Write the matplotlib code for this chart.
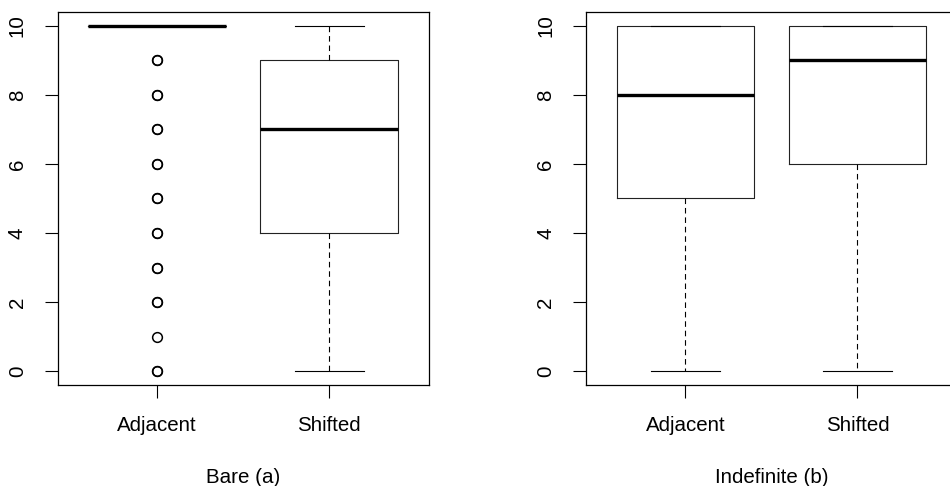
import matplotlib
matplotlib.use('Agg')
from matplotlib import pyplot as plt

plt.rcParams['font.family'] = ['Liberation Sans', 'DejaVu Sans']

# Groups on the x axis
groups = ['Adjacent', 'Shifted']
positions = [1, 2]

# Bare (a): whisker low, Q1, median, Q3, whisker high
bare_low = [10, 0]
bare_q1 = [10, 4]
bare_med = [10, 7]
bare_q3 = [10, 9]
bare_high = [10, 10]
# outliers of Adjacent (repeated values are drawn on top of each other)
bare_adj_outliers = [0, 0, 1, 2, 2, 3, 3, 4, 4, 5, 5, 6, 6, 7, 7, 8, 8, 9, 9]
bare_shf_outliers = []

# Indefinite (b)
indef_low = [0, 0]
indef_q1 = [5, 6]
indef_med = [8, 9]
indef_q3 = [10, 10]
indef_high = [10, 10]

yticks = [0, 2, 4, 6, 8, 10]


def make_stats(low, q1, med, q3, high, fliers):
    stats = []
    for i in range(len(low)):
        stats.append({'whislo': low[i], 'q1': q1[i], 'med': med[i],
                      'q3': q3[i], 'whishi': high[i], 'fliers': fliers[i]})
    return stats


def draw_panel(ax, stats, title):
    ax.bxp(stats, positions=positions, widths=0.8, showfliers=True,
           boxprops=dict(color='#222222', linewidth=0.8),
           medianprops=dict(color='black', linewidth=2.4, solid_capstyle='butt'),
           whiskerprops=dict(color='black', linewidth=0.8, linestyle=(0, (5, 3.5))),
           capprops=dict(color='black', linewidth=0.8),
           capwidths=0.4,
           flierprops=dict(marker='o', markersize=7, markerfacecolor='none',
                           markeredgecolor='black', markeredgewidth=1.1))
    ax.set_xlim(0.42, 2.58)
    ax.set_ylim(-0.4, 10.4)
    ax.set_xticks(positions)
    ax.set_xticklabels(groups)
    ax.set_yticks(yticks)
    ax.set_yticklabels([str(v) for v in yticks], rotation=90, va='center')
    ax.tick_params(direction='out', length=9.5, width=0.8, labelsize=14.8, pad=12.5)
    for s in ax.spines.values():
        s.set_linewidth(0.9)
    ax.set_xlabel(title, fontsize=14.8, labelpad=24)


fig = plt.figure(figsize=(9.5, 4.86), dpi=100)
ax1 = fig.add_axes([57.5 / 950, 101 / 486, 371.5 / 950, 373 / 486])
ax2 = fig.add_axes([585.7 / 950, 101 / 486, 371.5 / 950, 373 / 486])

draw_panel(ax1, make_stats(bare_low, bare_q1, bare_med, bare_q3, bare_high,
                           [bare_adj_outliers, bare_shf_outliers]), 'Bare (a)')
draw_panel(ax2, make_stats(indef_low, indef_q1, indef_med, indef_q3, indef_high,
                           [[], []]), 'Indefinite (b)')

fig.savefig('out.png', dpi=100)
